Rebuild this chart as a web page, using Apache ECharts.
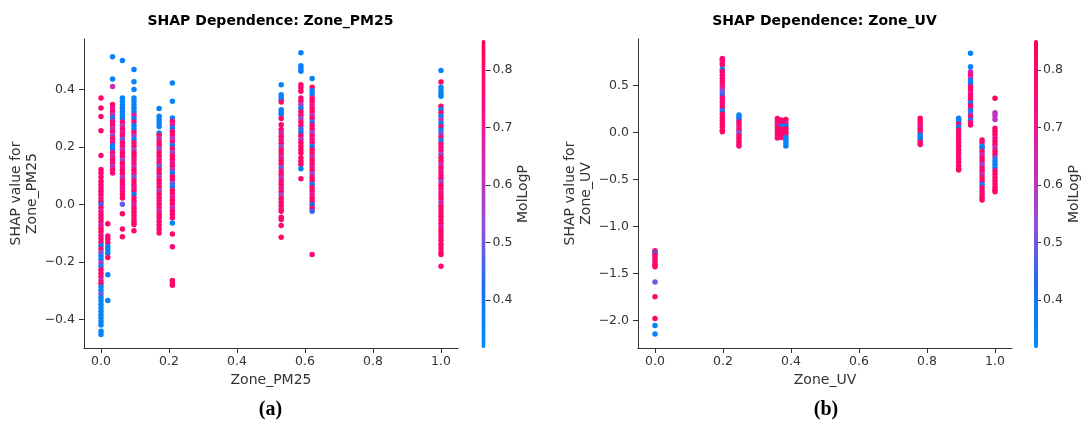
<!DOCTYPE html>
<html>
<head>
<meta charset="utf-8">
<script src="https://cdn.jsdelivr.net/npm/echarts@6/dist/echarts.min.js"></script>
<style>
html,body{margin:0;padding:0;background:#fff;}
#chart{width:1082px;height:422px;}
</style>
</head>
<body>
<div id="chart"></div>
<script>
// ---- data: feature value columns, each point = [SHAP value, MolLogP] ----
const pm25X = [0.0, 0.02, 0.034, 0.063, 0.097, 0.171, 0.21, 0.53, 0.588, 0.621, 1.0];
const pm25Cols = [
 [[0.37,0.8],[0.335,0.8],[0.305,0.78],[0.256,0.8],[0.17,0.78],[0.121,0.8],[0.109,0.78],[0.095,0.75],[0.08,0.8],[0.068,0.78],[0.057,0.75],[0.045,0.8],[0.034,0.78],
  [0.022,0.7],[0.01,0.8],[0.0,0.45],[-0.012,0.78],[-0.024,0.68],[-0.036,0.8],[-0.048,0.75],[-0.06,0.8],[-0.072,0.65],[-0.084,0.78],[-0.096,0.8],[-0.108,0.7],[-0.12,0.8],[-0.132,0.75],[-0.144,0.4],[-0.156,0.8],[-0.168,0.55],[-0.18,0.36],[-0.192,0.38],[-0.204,0.6],[-0.216,0.36],[-0.228,0.8],[-0.24,0.75],[-0.252,0.8],[-0.264,0.65],[-0.276,0.8],[-0.288,0.36],[-0.3,0.34],[-0.312,0.5],[-0.324,0.34],[-0.336,0.36],[-0.348,0.34],[-0.36,0.34],[-0.372,0.36],[-0.384,0.34],[-0.396,0.34],[-0.408,0.36],[-0.42,0.34],[-0.442,0.34],[-0.453,0.34]],
 [[-0.068,0.8],[-0.11,0.78],[-0.122,0.8],[-0.135,0.75],[-0.148,0.38],[-0.158,0.36],[-0.17,0.36],[-0.185,0.8],[-0.245,0.36],[-0.335,0.36]],
 [[0.513,0.36],[0.436,0.36],[0.41,0.62],[0.347,0.8],[0.335,0.7],[0.323,0.78],[0.311,0.6],[0.3,0.4],[0.288,0.75],[0.276,0.8],[0.264,0.62],[0.252,0.78],[0.24,0.55],[0.228,0.8],[0.216,0.7],[0.204,0.38],[0.192,0.36],[0.18,0.78],[0.168,0.65],[0.156,0.8],[0.144,0.75],[0.132,0.6],[0.12,0.8],[0.109,0.78]],
 [[0.5,0.36],[0.37,0.36],[0.358,0.34],[0.346,0.36],[0.334,0.4],[0.322,0.36],[0.31,0.34],[0.298,0.38],[0.286,0.78],[0.274,0.6],[0.262,0.8],[0.25,0.7],[0.238,0.78],[0.226,0.5],[0.214,0.8],[0.202,0.75],[0.19,0.62],[0.178,0.8],[0.166,0.78],[0.154,0.55],[0.142,0.8],[0.13,0.7],[0.118,0.78],[0.106,0.8],[0.094,0.6],[0.082,0.78],[0.07,0.8],[0.058,0.7],[0.046,0.75],[0.034,0.8],[0.022,0.78],[0.0,0.48],[-0.033,0.8],[-0.086,0.78],[-0.113,0.8]],
 [[0.469,0.36],[0.426,0.36],[0.399,0.36],[0.37,0.36],[0.358,0.34],[0.346,0.36],[0.334,0.38],[0.322,0.36],[0.31,0.7],[0.298,0.36],[0.286,0.78],[0.274,0.38],[0.262,0.36],[0.25,0.8],[0.238,0.6],[0.226,0.36],[0.214,0.78],[0.202,0.8],[0.19,0.55],[0.178,0.78],[0.166,0.8],[0.154,0.7],[0.142,0.78],[0.13,0.62],[0.118,0.8],[0.106,0.75],[0.094,0.5],[0.082,0.8],[0.07,0.78],[0.058,0.7],[0.046,0.8],[0.034,0.38],[0.022,0.78],[0.01,0.8],[-0.002,0.65],[-0.014,0.78],[-0.026,0.8],[-0.038,0.75],[-0.05,0.78],[-0.062,0.8],[-0.07,0.78],[-0.092,0.8]],
 [[0.333,0.36],[0.306,0.36],[0.295,0.34],[0.284,0.36],[0.271,0.36],[0.248,0.36],[0.24,0.8],[0.228,0.62],[0.216,0.78],[0.204,0.8],[0.192,0.55],[0.18,0.78],[0.168,0.8],[0.156,0.7],[0.144,0.78],[0.132,0.5],[0.12,0.8],[0.108,0.78],[0.096,0.62],[0.084,0.8],[0.072,0.75],[0.06,0.78],[0.048,0.6],[0.036,0.8],[0.024,0.78],[0.012,0.7],[0.0,0.8],[-0.012,0.78],[-0.024,0.65],[-0.036,0.8],[-0.047,0.78],[-0.059,0.8],[-0.072,0.78],[-0.086,0.8],[-0.1,0.78]],
 [[0.422,0.36],[0.358,0.36],[0.3,0.36],[0.289,0.8],[0.277,0.7],[0.265,0.38],[0.253,0.78],[0.241,0.8],[0.229,0.6],[0.217,0.78],[0.205,0.36],[0.193,0.8],[0.181,0.55],[0.169,0.78],[0.157,0.8],[0.145,0.7],[0.133,0.78],[0.121,0.62],[0.109,0.36],[0.097,0.8],[0.085,0.78],[0.073,0.5],[0.061,0.36],[0.049,0.8],[0.037,0.78],[0.025,0.7],[0.013,0.8],[0.001,0.78],[-0.011,0.62],[-0.023,0.8],[-0.035,0.78],[-0.047,0.8],[-0.065,0.36],[-0.103,0.8],[-0.148,0.78],[-0.265,0.8],[-0.274,0.78],[-0.282,0.8]],
 [[0.416,0.36],[0.381,0.36],[0.372,0.36],[0.364,0.34],[0.356,0.8],[0.329,0.36],[0.32,0.36],[0.312,0.36],[0.298,0.8],[0.277,0.78],[0.26,0.8],[0.248,0.62],[0.236,0.78],[0.224,0.7],[0.212,0.8],[0.2,0.55],[0.188,0.78],[0.176,0.8],[0.164,0.65],[0.152,0.78],[0.14,0.8],[0.128,0.5],[0.116,0.75],[0.104,0.8],[0.092,0.62],[0.08,0.78],[0.068,0.8],[0.056,0.7],[0.044,0.78],[0.032,0.55],[0.02,0.8],[0.008,0.78],[-0.004,0.8],[-0.016,0.7],[-0.024,0.8],[-0.045,0.78],[-0.053,0.8],[-0.074,0.78],[-0.115,0.8]],
 [[0.527,0.36],[0.482,0.36],[0.472,0.36],[0.463,0.36],[0.416,0.8],[0.405,0.78],[0.393,0.8],[0.37,0.75],[0.358,0.8],[0.346,0.6],[0.334,0.36],[0.322,0.78],[0.31,0.8],[0.298,0.55],[0.286,0.78],[0.274,0.8],[0.262,0.45],[0.25,0.4],[0.238,0.78],[0.226,0.6],[0.214,0.8],[0.202,0.78],[0.19,0.82],[0.178,0.8],[0.162,0.78],[0.15,0.8],[0.138,0.78],[0.124,0.36],[0.089,0.78]],
 [[0.438,0.36],[0.407,0.8],[0.395,0.36],[0.383,0.36],[0.37,0.78],[0.358,0.8],[0.346,0.7],[0.334,0.78],[0.322,0.8],[0.31,0.62],[0.298,0.78],[0.286,0.45],[0.274,0.8],[0.262,0.78],[0.25,0.55],[0.238,0.8],[0.226,0.7],[0.214,0.78],[0.202,0.38],[0.19,0.8],[0.178,0.78],[0.166,0.62],[0.154,0.8],[0.142,0.78],[0.13,0.7],[0.118,0.8],[0.106,0.55],[0.094,0.78],[0.082,0.8],[0.07,0.36],[0.058,0.78],[0.046,0.8],[0.034,0.7],[0.022,0.78],[0.01,0.8],[-0.002,0.42],[-0.014,0.8],[-0.024,0.45],[-0.175,0.78]],
 [[0.465,0.36],[0.425,0.8],[0.407,0.36],[0.395,0.36],[0.385,0.36],[0.376,0.36],[0.341,0.8],[0.33,0.36],[0.318,0.78],[0.306,0.36],[0.294,0.62],[0.282,0.36],[0.27,0.8],[0.258,0.36],[0.246,0.5],[0.234,0.78],[0.222,0.36],[0.21,0.8],[0.198,0.7],[0.186,0.78],[0.174,0.55],[0.162,0.8],[0.15,0.78],[0.138,0.62],[0.126,0.8],[0.114,0.7],[0.102,0.78],[0.09,0.8],[0.078,0.55],[0.066,0.78],[0.054,0.8],[0.042,0.7],[0.03,0.78],[0.018,0.8],[0.006,0.62],[-0.006,0.78],[-0.018,0.8],[-0.03,0.75],[-0.042,0.8],[-0.054,0.78],[-0.066,0.8],[-0.078,0.7],[-0.09,0.78],[-0.102,0.8],[-0.114,0.78],[-0.126,0.8],[-0.14,0.78],[-0.152,0.8],[-0.165,0.78],[-0.175,0.8],[-0.216,0.78]]
];
const uvX = [0.0, 0.198, 0.247, 0.36, 0.372, 0.385, 0.78, 0.893, 0.928, 0.962, 1.0];
const uvCols = [
 [[-1.255,0.8],[-1.27,0.78],[-1.283,0.4],[-1.3,0.78],[-1.33,0.8],[-1.36,0.78],[-1.39,0.8],[-1.41,0.78],[-1.425,0.8],[-1.588,0.5],[-1.744,0.78],[-1.975,0.82],[-2.05,0.36],[-2.14,0.36]],
 [[0.79,0.78],[0.77,0.8],[0.745,0.75],[0.72,0.8],[0.674,0.36],[0.65,0.78],[0.615,0.8],[0.58,0.75],[0.545,0.8],[0.51,0.78],[0.475,0.7],[0.44,0.5],[0.405,0.45],[0.37,0.78],[0.335,0.8],[0.3,0.75],[0.265,0.8],[0.234,0.36],[0.2,0.78],[0.165,0.8],[0.13,0.82],[0.095,0.8],[0.06,0.82],[0.025,0.8],[0.01,0.82]],
 [[0.188,0.36],[0.165,0.36],[0.14,0.38],[0.117,0.78],[0.085,0.8],[0.055,0.7],[0.025,0.8],[0.0,0.5],[-0.03,0.78],[-0.06,0.8],[-0.09,0.78],[-0.12,0.8],[-0.141,0.78]],
 [[0.15,0.78],[0.12,0.8],[0.09,0.7],[0.06,0.78],[0.03,0.8],[0.0,0.75],[-0.03,0.8],[-0.055,0.78]],
 [[0.135,0.8],[0.1,0.78],[0.07,0.36],[0.04,0.8],[0.01,0.78],[-0.02,0.8],[-0.05,0.75]],
 [[0.14,0.8],[0.1,0.7],[0.07,0.38],[0.04,0.8],[0.01,0.78],[-0.02,0.8],[-0.05,0.36],[-0.08,0.36],[-0.11,0.34],[-0.14,0.36]],
 [[0.153,0.8],[0.12,0.78],[0.09,0.8],[0.06,0.7],[0.03,0.8],[0.0,0.78],[-0.025,0.36],[-0.05,0.4],[-0.078,0.36],[-0.1,0.8],[-0.125,0.78]],
 [[0.153,0.36],[0.135,0.36],[0.12,0.38],[0.09,0.8],[0.06,0.36],[0.03,0.78],[0.0,0.8],[-0.035,0.75],[-0.07,0.8],[-0.105,0.78],[-0.14,0.8],[-0.175,0.78],[-0.21,0.8],[-0.245,0.75],[-0.28,0.8],[-0.315,0.78],[-0.35,0.8],[-0.38,0.78],[-0.397,0.8]],
 [[0.845,0.36],[0.702,0.36],[0.649,0.62],[0.615,0.78],[0.58,0.6],[0.55,0.36],[0.52,0.4],[0.49,0.78],[0.455,0.8],[0.42,0.7],[0.385,0.78],[0.35,0.8],[0.32,0.36],[0.29,0.78],[0.255,0.8],[0.235,0.36],[0.2,0.5],[0.17,0.8],[0.135,0.36],[0.11,0.78],[0.082,0.8]],
 [[-0.078,0.8],[-0.11,0.78],[-0.145,0.36],[-0.166,0.4],[-0.2,0.78],[-0.235,0.62],[-0.27,0.8],[-0.305,0.78],[-0.34,0.55],[-0.375,0.8],[-0.41,0.78],[-0.445,0.62],[-0.48,0.8],[-0.515,0.78],[-0.55,0.36],[-0.585,0.8],[-0.62,0.78],[-0.655,0.8],[-0.69,0.78],[-0.716,0.8]],
 [[0.366,0.82],[0.213,0.6],[0.18,0.62],[0.142,0.6],[0.047,0.8],[0.015,0.78],[-0.02,0.8],[-0.055,0.7],[-0.09,0.78],[-0.125,0.8],[-0.16,0.62],[-0.195,0.78],[-0.23,0.8],[-0.265,0.5],[-0.3,0.36],[-0.335,0.4],[-0.37,0.36],[-0.405,0.78],[-0.44,0.8],[-0.475,0.75],[-0.51,0.8],[-0.545,0.78],[-0.58,0.8],[-0.61,0.78],[-0.628,0.8]]
];
const xTicks = [0.0, 0.2, 0.4, 0.6, 0.8, 1.0];
const pm25YTicks = [-0.4, -0.2, 0.0, 0.2, 0.4];
const uvYTicks = [-2.0, -1.5, -1.0, -0.5, 0.0, 0.5];
const cbTicks = [0.4, 0.5, 0.6, 0.7, 0.8];
const cbRange = [0.317, 0.852];
const titles = ['SHAP Dependence: Zone_PM25', 'SHAP Dependence: Zone_UV'];
const panelTags = ['(a)', '(b)'];

// ---- build ----
function build(xs, cols) {
  const out = [];
  cols.forEach((pts, i) => pts.forEach(p => out.push([xs[i], p[0], p[1]])));
  return out;
}
const FONT = 'DejaVu Sans';
const TXT = '#333333';
const fmt = v => (v < 0 ? '\u2212' : '') + Math.abs(v).toFixed(1);
const cmap = ['#008bfb','#0a80f8','#1a6ef2','#5a5ee6','#9050d8','#b03cc4','#d028b0','#ea1898','#f80c80','#ff066a','#ff0052'];

function xAxisCfg(idx, name) {
  return {
    gridIndex: idx, type: 'value', min: -0.05, max: 1.05,
    name: name, nameLocation: 'middle', nameGap: 23,
    nameTextStyle: {fontFamily: FONT, fontSize: 14, color: TXT},
    axisLine: {show: true, onZero: false, lineStyle: {color: TXT, width: 1}},
    axisTick: {show: true, length: 5, customValues: xTicks, lineStyle: {color: TXT}},
    axisLabel: {customValues: xTicks, formatter: fmt, margin: 7, fontFamily: FONT, fontSize: 12.5, color: TXT},
    splitLine: {show: false}
  };
}
function yAxisCfg(idx, name, min, max, ticks) {
  return {
    gridIndex: idx, type: 'value', min: min, max: max,
    name: name, nameLocation: 'middle', nameGap: 42, nameRotate: 90,
    nameTextStyle: {fontFamily: FONT, fontSize: 14, color: TXT, lineHeight: 16},
    axisLine: {show: true, onZero: false, lineStyle: {color: TXT, width: 1}},
    axisTick: {show: true, length: 5, customValues: ticks, lineStyle: {color: TXT}},
    axisLabel: {customValues: ticks, formatter: fmt, margin: 9, fontFamily: FONT, fontSize: 12.5, color: TXT},
    splitLine: {show: false}
  };
}
function cbAxisCfg(idx) {
  return {
    gridIndex: idx, type: 'value', position: 'right', min: cbRange[0], max: cbRange[1],
    name: 'MolLogP', nameLocation: 'middle', nameGap: 31, nameRotate: 90,
    nameTextStyle: {fontFamily: FONT, fontSize: 14, color: TXT},
    axisLine: {show: false, onZero: false},
    axisTick: {show: true, length: 5, customValues: cbTicks, lineStyle: {color: TXT}},
    axisLabel: {customValues: cbTicks, formatter: v => v.toFixed(1), margin: 7, fontFamily: FONT, fontSize: 12.5, color: TXT},
    splitLine: {show: false}
  };
}

const chart = echarts.init(document.getElementById('chart'), null, {renderer: 'canvas'});
chart.setOption({
  animation: false,
  backgroundColor: '#ffffff',
  grid: [
    {left: 84, top: 39, width: 374, height: 309},
    {left: 638, top: 39, width: 374, height: 309},
    {left: 481.5, top: 40, width: 4, height: 308},
    {left: 1034, top: 40, width: 4, height: 308}
  ],
  xAxis: [
    xAxisCfg(0, 'Zone_PM25'),
    xAxisCfg(1, 'Zone_UV'),
    {gridIndex: 2, type: 'value', show: false, min: 0, max: 1},
    {gridIndex: 3, type: 'value', show: false, min: 0, max: 1}
  ],
  yAxis: [
    yAxisCfg(0, 'SHAP value for\nZone_PM25', -0.50, 0.575, pm25YTicks),
    yAxisCfg(1, 'SHAP value for\nZone_UV', -2.29, 0.997, uvYTicks),
    cbAxisCfg(2),
    cbAxisCfg(3)
  ],
  visualMap: [
    {type: 'continuous', seriesIndex: 0, dimension: 2, min: cbRange[0], max: cbRange[1],
     inRange: {color: cmap}, calculable: false, itemWidth: 4, itemHeight: 308,
     left: 481.5, top: 40, padding: 0, orient: 'vertical', hoverLink: false},
    {type: 'continuous', seriesIndex: 1, dimension: 2, min: cbRange[0], max: cbRange[1],
     inRange: {color: cmap}, calculable: false, itemWidth: 4, itemHeight: 308,
     left: 1034, top: 40, padding: 0, orient: 'vertical', hoverLink: false}
  ],
  series: [
    {type: 'scatter', xAxisIndex: 0, yAxisIndex: 0, symbolSize: 5.5, data: build(pm25X, pm25Cols), itemStyle: {opacity: 1}},
    {type: 'scatter', xAxisIndex: 1, yAxisIndex: 1, symbolSize: 5.5, data: build(uvX, uvCols), itemStyle: {opacity: 1}}
  ],
  graphic: [
    {type: 'text', x: 270.5, y: 21, style: {text: titles[0], fontFamily: FONT, fontWeight: 'bold', fontSize: 14, fill: '#000', textAlign: 'center', textVerticalAlign: 'middle'}},
    {type: 'text', x: 824.5, y: 21, style: {text: titles[1], fontFamily: FONT, fontWeight: 'bold', fontSize: 14, fill: '#000', textAlign: 'center', textVerticalAlign: 'middle'}},
    {type: 'text', x: 270.5, y: 410, style: {text: panelTags[0], fontFamily: 'Liberation Serif', fontWeight: 'bold', fontSize: 20, fill: '#000', textAlign: 'center', textVerticalAlign: 'middle'}},
    {type: 'text', x: 826, y: 410, style: {text: panelTags[1], fontFamily: 'Liberation Serif', fontWeight: 'bold', fontSize: 20, fill: '#000', textAlign: 'center', textVerticalAlign: 'middle'}}
  ]
});
</script>
</body>
</html>
